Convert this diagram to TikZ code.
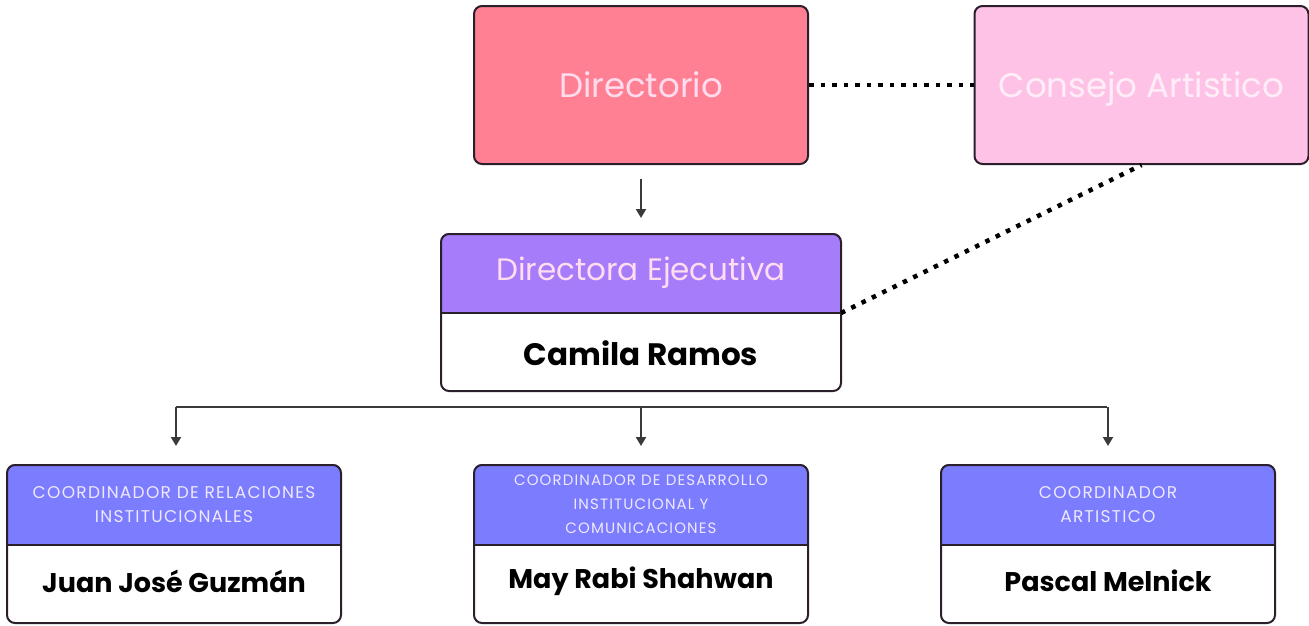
\documentclass[tikz,border=0pt]{standalone}
\usepackage{fontspec}
\setmainfont{Poppins}
\usetikzlibrary{arrows.meta,calc}
\definecolor{cdir}{HTML}{FF7F93}
\definecolor{ccons}{HTML}{FFC2E7}
\definecolor{cexec}{HTML}{A67CFB}
\definecolor{ccoord}{HTML}{7C7CFF}
\definecolor{cbd}{HTML}{2A1F2A}
\definecolor{ctxt}{HTML}{FFDDEE}
\definecolor{csmall}{HTML}{EEE8FF}
\definecolor{cline}{HTML}{3A3A3A}
\newcommand\orgcard[9]{%
  \coordinate (#1-nw) at ({#2-#4/2},#3);
  \coordinate (#1-div) at ({#2+#4/2},{#3+#6});
  \fill[#7, rounded corners=8pt] (#1-nw) rectangle (#1-div);
  \fill[#7] ({#2-#4/2},{#3+#6/2}) rectangle (#1-div);
  \draw[cbd, line width=2pt] ({#2-#4/2},{#3+#6}) -- (#1-div);
  \node[cardbox, minimum width=#4pt, minimum height=#5pt, anchor=north] (#1) at (#2,#3) {};
  \node[#8] (#1-t) at (#2,{#3+#6/2}) {#9};
}
\begin{document}
\begin{tikzpicture}[x=1pt,y=-1pt,
  cardbox/.style={draw=cbd, line width=2pt, rounded corners=8pt, inner sep=0pt},
  topbox/.style={cardbox, minimum width=334pt, minimum height=158pt, text=ctxt,
    text height=30pt, text depth=6pt, font=\fontsize{34}{40}\selectfont},
  bigtitle/.style={text=ctxt, font=\fontsize{31}{36}\selectfont},
  smalltitle/.style={text=csmall, align=center, inner sep=0pt,
    font=\fontsize{17}{24}\selectfont\addfontfeatures{LetterSpace=7.5}},
  smallertitle/.style={smalltitle,
    font=\fontsize{15}{24}\selectfont\addfontfeatures{LetterSpace=7.5}},
  namebig/.style={text=black, font=\bfseries\fontsize{31}{36}\selectfont},
  nametext/.style={text=black, font=\bfseries\fontsize{27}{32}\selectfont},
  dotline/.style={line width=4.5pt, dash pattern=on 4.5pt off 7pt},
  conn/.style={cline, line width=2pt},
  arr/.style={conn, -{Triangle[length=9pt,width=10pt]}},
]
\useasboundingbox (0,0) rectangle (1309,625);

% top boxes
\node[topbox, fill=cdir] (dir) at (641,85) {Directorio};
\node[topbox, fill=ccons, text=ctxt!50!white] (cons) at (1141.5,85) {Consejo Artistico};

% executive director
\orgcard{de}{641}{233}{400}{157}{80}{cexec}{bigtitle}{Directora Ejecutiva}
\node[namebig] (de-n) at (641,353) {Camila Ramos};

% coordinators
\orgcard{c1}{174}{464}{334}{158}{81}{ccoord}{smalltitle}{COORDINADOR DE RELACIONES\\INSTITUCIONALES}
\node[nametext] (c1-n) at (174,581) {Juan José Guzmán};
\orgcard{c2}{641}{464}{334}{158}{81}{ccoord}{smallertitle}{COORDINADOR DE DESARROLLO\\INSTITUCIONAL Y\\COMUNICACIONES}
\node[nametext] (c2-n) at (641,581) {May Rabi Shahwan};
\orgcard{c3}{1108}{464}{334}{158}{81}{ccoord}{smalltitle}{COORDINADOR\\ARTISTICO}
\node[nametext] (c3-n) at (1108,581) {Pascal Melnick};

% connectors
\draw[dotline] (dir.east) -- (cons.west);
\draw[dotline] (de-div) -- (cons.south);
\draw[arr] ([yshift=-14pt]dir.south) -- ([yshift=15pt]de.north);
\coordinate (bus) at (641,407);
\draw[conn] ([xshift=2pt]c1.north |- bus) -- ([xshift=-1pt]c3.north |- bus);
\draw[arr] ([xshift=2pt]c1.north |- bus) -- ([xshift=2pt,yshift=18pt]c1.north);
\draw[arr] (c2.north |- bus) -- ([yshift=18pt]c2.north);
\draw[arr] (c3.north |- bus) -- ([yshift=18pt]c3.north);
\end{tikzpicture}
\end{document}
